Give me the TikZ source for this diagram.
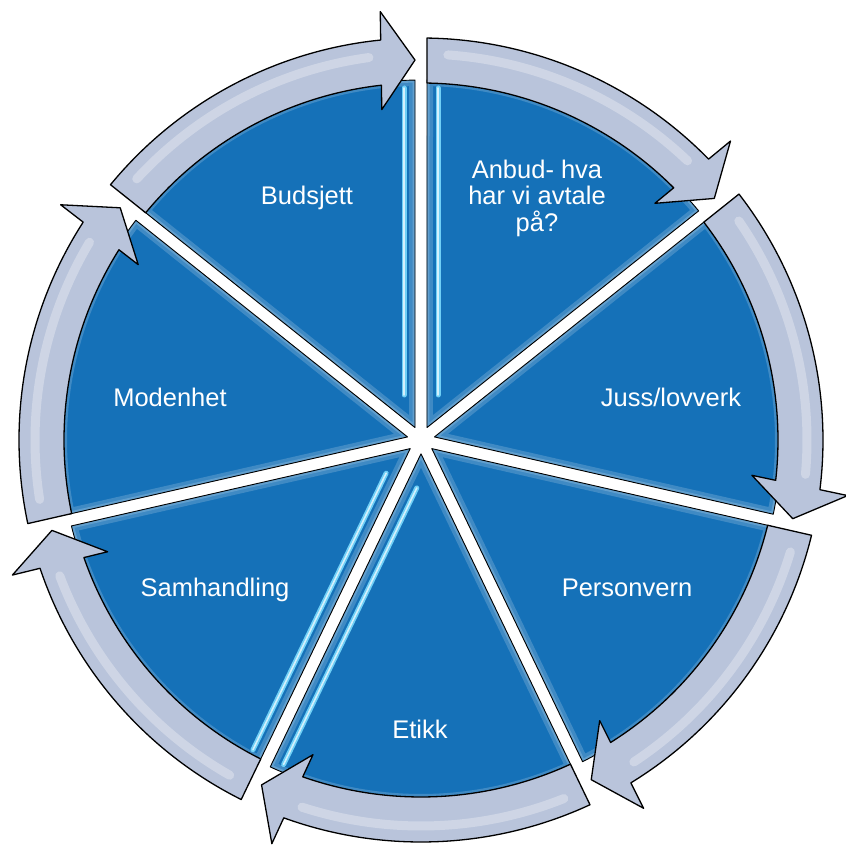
\documentclass[tikz,border=0pt]{standalone}
\usepackage{fontspec}
\setmainfont{Liberation Sans}
\usetikzlibrary{calc}
\definecolor{wedgeblue}{HTML}{1571B8}
\definecolor{arrowfill}{HTML}{B9C4DB}
\definecolor{stripecyan}{HTML}{6FCFF6}
\begin{document}
\begin{tikzpicture}[x=1pt,y=1pt,
  wedge/.style={fill=wedgeblue, draw=black, line width=0.9pt, line join=round},
  wedgeglow/.style={draw=white, line width=12pt, opacity=0.18},
  arrowband/.style={fill=arrowfill, draw=black, line width=1.3pt, line join=round},
  bandlight/.style={draw=white, line width=9pt, opacity=0.3, line cap=round},
  stripeout/.style={draw=stripecyan, line width=5pt, line cap=round},
  stripein/.style={draw=white, line width=1.6pt, opacity=0.7, line cap=round},
  lbl/.style={text=white, font=\fontsize{25.5}{26.5}\selectfont, align=center, inner sep=0pt},
]
\useasboundingbox (0,0) rectangle (846,847);
\fill[white] (0,0) rectangle (846,847);
\coordinate (C) at (421,407);
% wedges
\foreach \k in {0,...,6} {
  \pgfmathsetmacro{\ga}{90-51.428571*\k}
  \pgfmathsetmacro{\gb}{\ga-51.428571}
  \pgfmathsetmacro{\gm}{\ga-25.714286}
  \pgfmathsetmacro{\aw}{asin(6/360)}
  \def\wpath{($(C)+(\gm:13.8pt)$) -- ($(C)+(\ga-\aw:360pt)$) arc[start angle=\ga-\aw, end angle=\gb+\aw, radius=360pt] -- cycle}
  \fill[wedgeblue] \wpath;
  \begin{scope}
    \clip \wpath;
    \draw[wedgeglow] \wpath;
    \draw[wedgeglow, line width=5pt] \wpath;
  \end{scope}
  \draw[wedge, fill=none] \wpath;
}
% cyan stripes along gaps
\foreach \g/\s in {90/1, 90/-1, -115.714286/1, -115.714286/-1} {
  \draw[stripeout] ($(C)+(\g:45pt)+(\g+90*\s:17pt)$) -- ($(C)+(\g:352pt)+(\g+90*\s:17pt)$);
  \draw[stripein] ($(C)+(\g:45pt)+(\g+90*\s:17pt)$) -- ($(C)+(\g:352pt)+(\g+90*\s:17pt)$);
}
% arrows
\foreach \k in {0,...,6} {
  \pgfmathsetmacro{\ga}{90-51.428571*\k}
  \pgfmathsetmacro{\gb}{\ga-51.428571}
  \pgfmathsetmacro{\sO}{\ga-asin(6/402)}
  \pgfmathsetmacro{\sI}{\ga-asin(6/357)}
  \pgfmathsetmacro{\tipA}{\gb+asin(6/380)}
  \pgfmathsetmacro{\eO}{\tipA+asin(34/402)}
  \pgfmathsetmacro{\eI}{\tipA+asin(34/357)}
  \draw[arrowband] ($(C)+(\sO:402pt)$) arc[start angle=\sO, end angle=\eO, radius=402pt]
    -- ($(C)+(\tipA:429pt)+(\tipA+90:34pt)$)
    -- ($(C)+(\tipA:380pt)$)
    -- ($(C)+(\tipA:331pt)+(\tipA+90:34pt)$)
    -- ($(C)+(\eI:357pt)$) arc[start angle=\eI, end angle=\sI, radius=357pt] -- cycle;
  \draw[bandlight] ($(C)+(\ga-4:386pt)$) arc[start angle=\ga-4, end angle=\eO+2, radius=386pt];
}
% labels
\node[lbl, anchor=base] (budsjett) at (307,642) {Budsjett};
\node[lbl] (anbud) at (537,649) {Anbud- hva\\har vi avtale\\på?};
\node[lbl, anchor=base] (juss) at (671,440) {Juss/lovverk};
\node[lbl, anchor=base] (personvern) at (627,250) {Personvern};
\node[lbl, anchor=base] (etikk) at (420,108) {Etikk};
\node[lbl, anchor=base] (samhandling) at (215,250) {Samhandling};
\node[lbl, anchor=base] (modenhet) at (170,440) {Modenhet};
\end{tikzpicture}
\end{document}
